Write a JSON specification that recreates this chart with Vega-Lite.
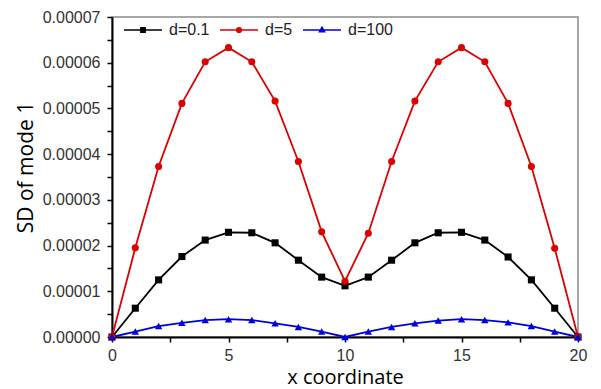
{
  "$schema": "https://vega.github.io/schema/vega-lite/v6.json",
  "autosize": "none",
  "width": 466,
  "height": 320,
  "padding": {"left": 112, "top": 17, "right": 23, "bottom": 52},
  "background": "white",
  "config": {
    "view": {"stroke": "#8a8a8a", "strokeWidth": 1.5},
    "axis": {
      "labelFont": "Liberation Sans",
      "labelFontSize": 16,
      "labelColor": "#333333",
      "titleFont": "Open Sans",
      "titleFontWeight": "normal",
      "titleColor": "#000000",
      "domainColor": "#000000",
      "domainWidth": 2,
      "tickColor": "#000000",
      "tickWidth": 1.5,
      "tickSize": 5,
      "grid": false
    }
  },
  "data": {
    "values": [
      {"x": 0, "v": 0, "s": "d=0.1"},
      {"x": 1, "v": 0.0000063, "s": "d=0.1"},
      {"x": 2, "v": 0.0000125, "s": "d=0.1"},
      {"x": 3, "v": 0.0000176, "s": "d=0.1"},
      {"x": 4, "v": 0.0000212, "s": "d=0.1"},
      {"x": 5, "v": 0.0000229, "s": "d=0.1"},
      {"x": 6, "v": 0.0000228, "s": "d=0.1"},
      {"x": 7, "v": 0.0000206, "s": "d=0.1"},
      {"x": 8, "v": 0.0000168, "s": "d=0.1"},
      {"x": 9, "v": 0.0000131, "s": "d=0.1"},
      {"x": 10, "v": 0.0000112, "s": "d=0.1"},
      {"x": 11, "v": 0.0000131, "s": "d=0.1"},
      {"x": 12, "v": 0.0000168, "s": "d=0.1"},
      {"x": 13, "v": 0.0000206, "s": "d=0.1"},
      {"x": 14, "v": 0.0000228, "s": "d=0.1"},
      {"x": 15, "v": 0.0000229, "s": "d=0.1"},
      {"x": 16, "v": 0.0000212, "s": "d=0.1"},
      {"x": 17, "v": 0.0000175, "s": "d=0.1"},
      {"x": 18, "v": 0.0000125, "s": "d=0.1"},
      {"x": 19, "v": 0.0000063, "s": "d=0.1"},
      {"x": 20, "v": 0, "s": "d=0.1"},
      {"x": 0, "v": 0, "s": "d=5"},
      {"x": 1, "v": 0.0000195, "s": "d=5"},
      {"x": 2, "v": 0.0000373, "s": "d=5"},
      {"x": 3, "v": 0.0000511, "s": "d=5"},
      {"x": 4, "v": 0.0000602, "s": "d=5"},
      {"x": 5, "v": 0.0000633, "s": "d=5"},
      {"x": 6, "v": 0.0000602, "s": "d=5"},
      {"x": 7, "v": 0.0000516, "s": "d=5"},
      {"x": 8, "v": 0.0000384, "s": "d=5"},
      {"x": 9, "v": 0.000023, "s": "d=5"},
      {"x": 10, "v": 0.0000122, "s": "d=5"},
      {"x": 11, "v": 0.0000227, "s": "d=5"},
      {"x": 12, "v": 0.0000384, "s": "d=5"},
      {"x": 13, "v": 0.0000516, "s": "d=5"},
      {"x": 14, "v": 0.0000602, "s": "d=5"},
      {"x": 15, "v": 0.0000633, "s": "d=5"},
      {"x": 16, "v": 0.0000602, "s": "d=5"},
      {"x": 17, "v": 0.0000511, "s": "d=5"},
      {"x": 18, "v": 0.0000373, "s": "d=5"},
      {"x": 19, "v": 0.0000194, "s": "d=5"},
      {"x": 20, "v": 0, "s": "d=5"},
      {"x": 0, "v": 0, "s": "d=100"},
      {"x": 1, "v": 0.0000012, "s": "d=100"},
      {"x": 2, "v": 0.0000024, "s": "d=100"},
      {"x": 3, "v": 0.0000031, "s": "d=100"},
      {"x": 4, "v": 0.0000037, "s": "d=100"},
      {"x": 5, "v": 0.0000039, "s": "d=100"},
      {"x": 6, "v": 0.0000037, "s": "d=100"},
      {"x": 7, "v": 0.000003, "s": "d=100"},
      {"x": 8, "v": 0.0000022, "s": "d=100"},
      {"x": 9, "v": 0.0000012, "s": "d=100"},
      {"x": 10, "v": 0, "s": "d=100"},
      {"x": 11, "v": 0.0000012, "s": "d=100"},
      {"x": 12, "v": 0.0000022, "s": "d=100"},
      {"x": 13, "v": 0.000003, "s": "d=100"},
      {"x": 14, "v": 0.0000036, "s": "d=100"},
      {"x": 15, "v": 0.0000039, "s": "d=100"},
      {"x": 16, "v": 0.0000037, "s": "d=100"},
      {"x": 17, "v": 0.0000032, "s": "d=100"},
      {"x": 18, "v": 0.0000024, "s": "d=100"},
      {"x": 19, "v": 0.0000012, "s": "d=100"},
      {"x": 20, "v": 0, "s": "d=100"}
    ]
  },
  "encoding": {
    "x": {
      "field": "x",
      "type": "quantitative",
      "scale": {"domain": [0, 20], "nice": false, "zero": false},
      "axis": {
        "title": "x coordinate",
        "titleFontSize": 20,
        "titlePadding": 4,
        "values": [0, 2.5, 5, 7.5, 10, 12.5, 15, 17.5, 20],
        "labelExpr": "datum.value % 5 === 0 ? datum.label : ''",
        "labelPadding": 5,
        "labelFlush": false
      }
    },
    "y": {
      "field": "v",
      "type": "quantitative",
      "scale": {"domain": [0, 0.00007], "nice": false},
      "axis": {
        "title": "SD of mode 1",
        "titleFontSize": 21,
        "titlePadding": 6,
        "titleY": 150,
        "values": [0, 0.000005, 0.00001, 0.000015, 0.00002, 0.000025, 0.00003, 0.000035, 0.00004, 0.000045, 0.00005, 0.000055, 0.00006, 0.000065, 0.00007],
        "labelExpr": "round(datum.value*1e6) % 10 === 0 ? format(datum.value, '.5f') : ''",
        "labelPadding": 7,
        "labelFlush": false
      }
    },
    "color": {
      "field": "s",
      "type": "nominal",
      "scale": {"domain": ["d=0.1", "d=5", "d=100"], "range": ["#000000", "#dc0000", "#0000dc"]},
      "legend": {
        "title": null,
        "orient": "none",
        "legendX": 11,
        "legendY": -7,
        "direction": "horizontal",
        "padding": 0,
        "labelFont": "Liberation Sans",
        "labelFontSize": 16,
        "labelColor": "#222222",
        "labelOffset": 6,
        "columnPadding": 6,
        "symbolSize": 1444,
        "symbolStrokeWidth": 1.6,
        "encode": {
          "symbols": {
            "update": {
              "shape": {"signal": "datum.value === 'd=0.1' ? 'M-1,0H1M-0.11,-0.11H0.11V0.11H-0.11Z' : datum.value === 'd=5' ? 'M-1,0H1M0.12,0A0.12,0.12 0 1,1 -0.12,0A0.12,0.12 0 1,1 0.12,0Z' : 'M-1,0H1M0,-0.14L0.13,0.09H-0.13Z'"},
              "fill": {"scale": "color", "field": "value"},
              "stroke": {"scale": "color", "field": "value"},
              "opacity": {"value": 1}
            }
          }
        }
      }
    }
  },
  "layer": [
    {"mark": {"type": "line", "strokeWidth": 1.8}},
    {
      "transform": [{"filter": "datum.s === 'd=0.1'"}],
      "mark": {"type": "point", "shape": "square", "filled": true, "size": 50, "opacity": 1}
    },
    {
      "transform": [{"filter": "datum.s === 'd=5'"}],
      "mark": {"type": "point", "shape": "circle", "filled": true, "size": 50, "opacity": 1}
    },
    {
      "transform": [{"filter": "datum.s === 'd=100'"}],
      "mark": {"type": "point", "shape": "triangle-up", "filled": true, "size": 55, "opacity": 1}
    }
  ]
}
